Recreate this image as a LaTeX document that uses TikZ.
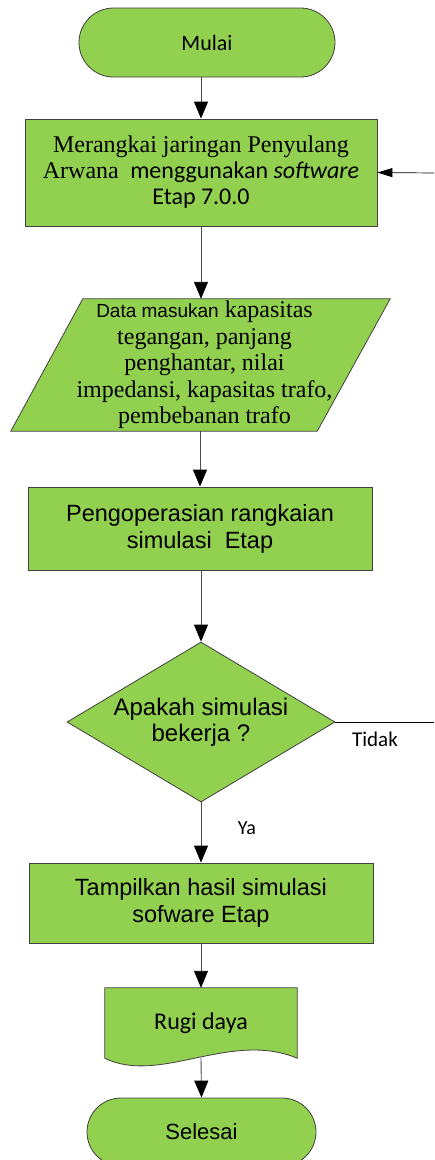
\documentclass[tikz,border=0pt]{standalone}
\usepackage{fontspec}
\setmainfont{Liberation Sans}
\newfontfamily\timesfont{Liberation Serif}
\newfontfamily\calibrifont{Carlito}
\usepackage{tikz}
\usetikzlibrary{arrows.meta,positioning,calc,backgrounds,shapes.geometric,shapes.misc}
\definecolor{daun}{HTML}{92D050}
\definecolor{garis}{HTML}{404040}

\begin{document}
\begin{tikzpicture}[x=1pt, y=-1pt, >={Triangle[length=17pt,width=14pt,color=black]},
	proses/.style={rectangle, draw=garis, fill=daun, line width=0.8pt, align=center, inner sep=0pt},
	terminal/.style={rounded rectangle, draw=garis, fill=daun, line width=0.8pt, inner sep=0pt},
	bentuk/.style={draw=garis, fill=daun, line width=0.8pt},
	alur/.style={draw=black!70, line width=0.9pt, ->},
	besar/.style={font=\fontsize{24}{26}\selectfont},
	sedang/.style={font=\fontsize{23.5}{27}\selectfont}]
		\useasboundingbox (0,0) rectangle (434,1160);

		\node (mulai) at (207,42.5) [terminal, minimum width=256pt, minimum height=69pt, font=\calibrifont\fontsize{22}{26}\selectfont] {Mulai};
		\node (rangkai) at (201,172.5) [proses, minimum width=352pt, minimum height=107pt, font=\timesfont\fontsize{24}{26}\selectfont]
			{Merangkai jaringan Penyulang\\Arwana\ {\calibrifont\ menggunakan \textit{software}}\\{\calibrifont Etap 7.0.0}};
		\node (data) at (204.5,365) [inner sep=0pt, minimum width=307pt, minimum height=132pt, align=center, font=\timesfont\fontsize{24}{26.5}\selectfont]
			{{\rmfamily\fontsize{19}{26}\selectfont Data masukan} kapasitas\\tegangan, panjang\\penghantar, nilai\\impedansi, kapasitas trafo,\\pembebanan trafo};
		\node (operasi) at (200,528.5) [proses, minimum width=344pt, minimum height=83pt, sedang] {Pengoperasian rangkaian\\simulasi\ \ Etap};
		\node (cek) at (201,722) [diamond, draw=garis, fill=daun, line width=0.8pt, inner sep=0pt, aspect=1.675,
			minimum width=268pt, minimum height=160pt, align=center, besar] {Apakah simulasi\\bekerja ?};
		\node (tampil) at (201,903) [proses, minimum width=344pt, minimum height=80pt, sedang] {Tampilkan hasil simulasi\\sofware Etap};
		\node (rugi) at (201,1023) [minimum width=192pt, minimum height=70pt, inner sep=0pt, font=\calibrifont\fontsize{24}{26}\selectfont] {Rugi daya};
		\node (selesai) at (201.5,1132) [terminal, minimum width=229pt, minimum height=68pt, font=\fontsize{22}{26}\selectfont] {Selesai};

		\begin{scope}[on background layer]
			\draw [bentuk] ($(data.north west)+(32,0)$) -- ($(data.north east)+(32,0)$) -- ($(data.south east)+(-41,0)$) -- ($(data.south west)+(-40,0)$) -- cycle;
			\draw [bentuk] (rugi.south east) -- (rugi.north east) -- (rugi.north west) -- (rugi.south west)
				.. controls ($(rugi.south west)+(55,27)$) and ($(rugi.south east)+(-67,-28)$) .. (rugi.south east) -- cycle;
		\end{scope}

		\node (tidak) at (375,739) [font=\calibrifont\fontsize{21}{24}\selectfont] {Tidak};
		\node (ya) at (247,828) [font=\calibrifont\fontsize{20}{24}\selectfont] {Ya};
		\coordinate (balik) at (434,173);
		\coordinate (ujungtidak) at (434,722);

		\draw [alur] (rangkai.north |- mulai.south) -- (rangkai.north);
		\draw [alur] (rangkai.south) -- (rangkai.south |- data.north);
		\draw [alur] (operasi.north |- data.south) -- (operasi.north);
		\draw [alur] (operasi.south -| cek.north) -- (cek.north);
		\draw [alur] (cek.south) -- (tampil.north);
		\draw [alur] (tampil.south) -- (rugi.north);
		\draw [alur] (rugi.south) -- (selesai.north);
		\draw [black, line width=0.7pt] (cek.east) -- (ujungtidak);
		\draw [black, line width=0.7pt, -{Triangle[length=15pt,width=9pt]}] (balik) -- (rangkai.east);
	\end{tikzpicture}
\end{document}
